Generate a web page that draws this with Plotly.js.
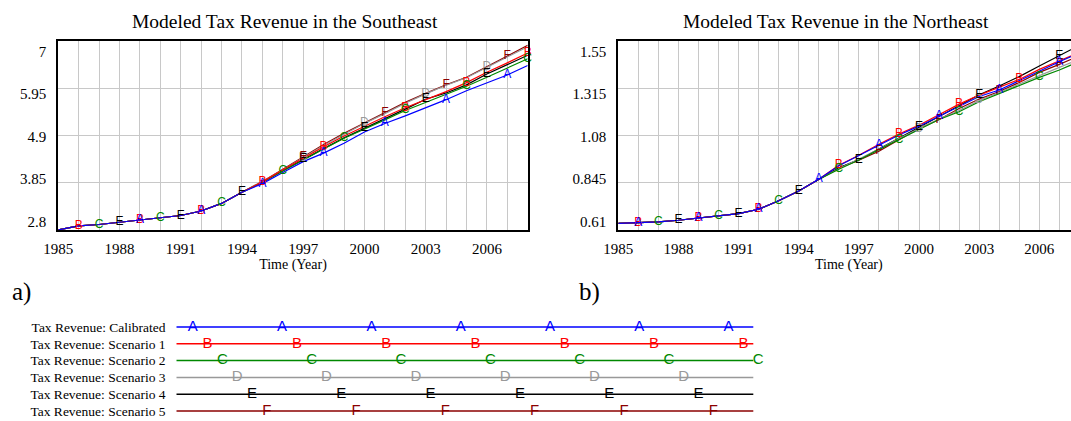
<!DOCTYPE html>
<html><head><meta charset="utf-8">
<script src="https://cdn.plot.ly/plotly-3.0.1.min.js"></script>
<style>html,body{margin:0;padding:0;overflow:hidden;background:#fff;width:1071px;height:421px}#chart{width:1100px;height:421px}</style>
</head><body><div id="chart"></div>
<script>
// ---------- data ----------
const years = [1985,1986,1987,1988,1989,1990,1991,1992,1993,1994,1995,1996,1997,1998,1999,2000,2001,2002,2003,2004,2005,2006,2007,2008];
const xTickLabels = ['1985','','','1988','','','1991','','','1994','','','1997','','','2000','','','2003','','','2006','',''];

const seTicks = [2.8,3.85,4.9,5.95,7];
const seTickLabels = ['2.8','3.85','4.9','5.95','7'];
const neTicks = [0.61,0.845,1.08,1.315,1.55];
const neTickLabels = ['0.61','0.845','1.08','1.315','1.55'];

const seriesNames = ['Tax Revenue: Calibrated','Tax Revenue: Scenario 1','Tax Revenue: Scenario 2','Tax Revenue: Scenario 3','Tax Revenue: Scenario 4','Tax Revenue: Scenario 5'];
const seriesLetters = ['A','B','C','D','E','F'];
const seriesColors = ['#0000FF','#FF0000','#008800','#999999','#000000','#8B0000'];

// Southeast (panel a)
const seCalibrated = [2.80,2.89,2.92,2.97,3.01,3.06,3.12,3.22,3.39,3.64,3.83,4.08,4.32,4.51,4.73,4.98,5.17,5.34,5.52,5.70,5.90,6.07,6.25,6.46];
const seScenario1  = [2.80,2.89,2.92,2.97,3.01,3.06,3.12,3.22,3.39,3.64,3.87,4.14,4.40,4.65,4.89,5.11,5.32,5.52,5.70,5.88,6.08,6.31,6.52,6.74];
const seScenario2  = [2.80,2.89,2.92,2.97,3.01,3.06,3.12,3.22,3.39,3.64,3.86,4.11,4.36,4.60,4.84,5.04,5.25,5.46,5.64,5.81,6.00,6.20,6.40,6.61];
const seScenario3  = [2.80,2.89,2.92,2.97,3.01,3.06,3.12,3.22,3.39,3.64,3.88,4.14,4.41,4.68,4.93,5.17,5.39,5.62,5.83,6.02,6.19,6.42,6.65,6.88];
const seScenario4  = [2.80,2.89,2.92,2.97,3.01,3.06,3.12,3.22,3.39,3.64,3.86,4.12,4.37,4.61,4.85,5.06,5.28,5.49,5.71,5.85,6.03,6.27,6.48,6.69];
const seScenario5  = [2.80,2.89,2.92,2.97,3.01,3.06,3.12,3.22,3.39,3.64,3.88,4.15,4.43,4.70,4.95,5.18,5.41,5.64,5.84,6.03,6.20,6.43,6.67,6.91];

// Northeast (panel b)
const neCalibrated = [0.643,0.645,0.650,0.658,0.668,0.678,0.691,0.713,0.755,0.804,0.862,0.930,0.980,1.033,1.083,1.127,1.177,1.227,1.275,1.307,1.354,1.404,1.448,1.492];
const neScenario1  = [0.643,0.645,0.650,0.658,0.668,0.678,0.691,0.713,0.755,0.804,0.862,0.932,0.982,1.037,1.088,1.132,1.186,1.237,1.282,1.320,1.360,1.410,1.453,1.495];
const neScenario2  = [0.643,0.645,0.650,0.658,0.668,0.678,0.691,0.713,0.755,0.804,0.862,0.912,0.958,1.010,1.058,1.110,1.160,1.199,1.249,1.290,1.332,1.370,1.407,1.450];
const neScenario3  = [0.643,0.645,0.650,0.658,0.668,0.678,0.691,0.713,0.755,0.804,0.862,0.915,0.962,1.012,1.065,1.115,1.162,1.205,1.255,1.295,1.338,1.380,1.420,1.460];
const neScenario4  = [0.643,0.645,0.650,0.658,0.668,0.678,0.691,0.713,0.755,0.804,0.862,0.920,0.960,1.015,1.070,1.122,1.175,1.230,1.284,1.327,1.374,1.427,1.478,1.530];
const neScenario5  = [0.643,0.645,0.650,0.658,0.668,0.678,0.691,0.713,0.755,0.804,0.862,0.918,0.958,1.002,1.060,1.115,1.160,1.215,1.262,1.300,1.345,1.395,1.435,1.478];

// years at which each series' letter marker is drawn
const seMarkA = [1989,1992,1995,1998,2001,2004,2007];
const seMarkB = [1986,1989,1992,1995,1998,2002,2005,2008];
const seMarkC = [1987,1990,1993,1996,1999,2002,2005,2008];
const seMarkD = [1997,2000,2003,2006];
const seMarkE = [1988,1991,1994,1997,2000,2003,2006];
const seMarkF = [1997,2001,2004,2007];
const neMarkA = [1986,1989,1992,1995,1998,2001,2004,2007];
const neMarkB = [1986,1989,1992,1996,1999,2002,2005];
const neMarkC = [1987,1990,1993,1996,1999,2002,2006];
const neMarkD = [2000,2003];
const neMarkE = [1988,1991,1994,1997,2000,2003,2007];
const neMarkF = [1998,2001,2004,2007];

// ---------- layout helpers ----------
const W = 1100, H = 421;
const fx = p => p / W, fy = p => 1 - p / H;
const SERIF = 'Liberation Serif, Times New Roman, serif';
const SANS = 'Liberation Sans, Arial, sans-serif';
const GRID = '#C8C8C8';

const seData = [seCalibrated,seScenario1,seScenario2,seScenario3,seScenario4,seScenario5];
const neData = [neCalibrated,neScenario1,neScenario2,neScenario3,neScenario4,neScenario5];
const seMarks = [seMarkA,seMarkB,seMarkC,seMarkD,seMarkE,seMarkF];
const neMarks = [neMarkA,neMarkB,neMarkC,neMarkD,neMarkE,neMarkF];

const traces = [];
function addPanel(data, marks, xa, ya) {
  const order = [5,4,3,2,1,0];
  order.forEach(i => traces.push({
    x: years, y: data[i], xaxis: xa, yaxis: ya, mode: 'lines',
    line: {color: seriesColors[i], width: 1.2}, hoverinfo: 'skip', showlegend: false
  }));
  [1,2,3,4,5,0].forEach(i => traces.push({
    x: marks[i], y: marks[i].map(yr => data[i][years.indexOf(yr)]),
    xaxis: xa, yaxis: ya, mode: 'text', text: marks[i].map(() => seriesLetters[i]),
    textposition: 'middle center', cliponaxis: false,
    textfont: {family: SANS, size: 12, color: seriesColors[i]}, hoverinfo: 'skip', showlegend: false
  }));
}
addPanel(seData, seMarks, 'x', 'y');
addPanel(neData, neMarks, 'x2', 'y2');
// dummy traces so the label-only overlay axes are drawn
traces.push({x:[1985], y:[null], xaxis:'x', yaxis:'y3', mode:'markers', hoverinfo:'skip', showlegend:false});
traces.push({x:[1985], y:[null], xaxis:'x2', yaxis:'y4', mode:'markers', hoverinfo:'skip', showlegend:false});

// legend panel (x in pixels from the start of the legend lines)
const legLeft = 176.3, legLen = 577, legSpan = 600, legFirst = 16.5, legStagger = 14.8, legPeriod = 89.3, legLimit = 582;
seriesNames.forEach((n, i) => {
  traces.push({x: [0, legLen], y: [i, i], xaxis: 'x3', yaxis: 'y5', mode: 'lines',
    line: {color: seriesColors[i], width: 1.5}, hoverinfo: 'skip', showlegend: false});
  const xs = [];
  for (let p = legFirst + i * legStagger; p <= legLimit; p += legPeriod) xs.push(p);
  traces.push({x: xs, y: xs.map(() => i), xaxis: 'x3', yaxis: 'y5', mode: 'text',
    text: xs.map(() => seriesLetters[i]), textposition: 'middle center', cliponaxis: false,
    textfont: {family: SANS, size: 15, color: seriesColors[i]}, hoverinfo: 'skip', showlegend: false});
});

const plotTop = 41.3, plotBot = 229.9, lblTop = 51.7, lblBot = 221.7;
function labelRange(lo, hi) {
  const ppu = (lblBot - lblTop) / (hi - lo);
  return [lo - (plotBot - lblBot) / ppu, hi + (lblTop - plotTop) / ppu];
}
const yDom = [fy(plotBot), fy(plotTop)];
const xBase = {
  range: [1985, 2008], tickvals: years, ticktext: xTickLabels,
  showgrid: true, gridcolor: GRID, gridwidth: 1, zeroline: false,
  showline: true, linecolor: '#000', linewidth: 2, mirror: true,
  ticks: 'outside', ticklen: 4, tickcolor: 'rgba(0,0,0,0)',
  tickfont: {family: SERIF, size: 15, color: '#000'},
  title: {text: 'Time (Year)', font: {family: SERIF, size: 14, color: '#000'}, standoff: 1},
  fixedrange: true
};
const yGrid = {
  domain: yDom, showticklabels: false, showgrid: true, gridcolor: GRID, gridwidth: 1,
  zeroline: false, showline: true, linecolor: '#000', linewidth: 2, mirror: true, ticks: '', fixedrange: true
};
const yLbl = {
  side: 'left', showgrid: false, zeroline: false, showline: false,
  ticks: 'outside', ticklen: 8, tickcolor: 'rgba(0,0,0,0)',
  tickfont: {family: SERIF, size: 15, color: '#000'}, fixedrange: true
};

const layout = {
  width: W, height: H, margin: {l: 0, r: 0, t: 0, b: 0},
  paper_bgcolor: '#fff', plot_bgcolor: '#fff', showlegend: false, hovermode: false,
  xaxis: Object.assign({}, xBase, {domain: [fx(58.3), fx(527.7)], anchor: 'y'}),
  yaxis: Object.assign({}, yGrid, {anchor: 'x', range: [2.8, 7], tickvals: seTicks}),
  yaxis3: Object.assign({}, yLbl, {overlaying: 'y', anchor: 'x', range: labelRange(2.8, 7), tickvals: seTicks, ticktext: seTickLabels}),
  xaxis2: Object.assign({}, xBase, {domain: [fx(618.3), fx(1079.4)], anchor: 'y2'}),
  yaxis2: Object.assign({}, yGrid, {anchor: 'x2', range: [0.61, 1.55], tickvals: neTicks}),
  yaxis4: Object.assign({}, yLbl, {overlaying: 'y2', anchor: 'x2', range: labelRange(0.61, 1.55), tickvals: neTicks, ticktext: neTickLabels}),
  xaxis3: {domain: [fx(legLeft), fx(legLeft + legSpan)], anchor: 'y5', range: [0, legSpan], visible: false, fixedrange: true},
  yaxis5: {domain: [fy(419.4), fy(318.6)], anchor: 'x3', range: [5.5, -0.5],
    tickvals: [0,1,2,3,4,5], ticktext: seriesNames, showgrid: false, zeroline: false, showline: false,
    ticks: 'outside', ticklen: 7, tickcolor: 'rgba(0,0,0,0)',
    tickfont: {family: SERIF, size: 13.5, color: '#000'}, fixedrange: true},
  annotations: [
    {text: 'Modeled Tax Revenue in the Southeast', xref: 'paper', yref: 'paper', x: fx(284.6), y: fy(21.3),
     xanchor: 'center', yanchor: 'middle', showarrow: false, font: {family: SERIF, size: 19.5, color: '#000'}},
    {text: 'Modeled Tax Revenue in the Northeast', xref: 'paper', yref: 'paper', x: fx(836), y: fy(21.3),
     xanchor: 'center', yanchor: 'middle', showarrow: false, font: {family: SERIF, size: 19.5, color: '#000'}},
    {text: 'a)', xref: 'paper', yref: 'paper', x: fx(21.5), y: fy(292),
     xanchor: 'center', yanchor: 'middle', showarrow: false, font: {family: SERIF, size: 25, color: '#000'}},
    {text: 'b)', xref: 'paper', yref: 'paper', x: fx(589.6), y: fy(292),
     xanchor: 'center', yanchor: 'middle', showarrow: false, font: {family: SERIF, size: 25, color: '#000'}}
  ]
};

Plotly.newPlot('chart', traces, layout, {staticPlot: true, displayModeBar: false});
</script>
</body></html>
